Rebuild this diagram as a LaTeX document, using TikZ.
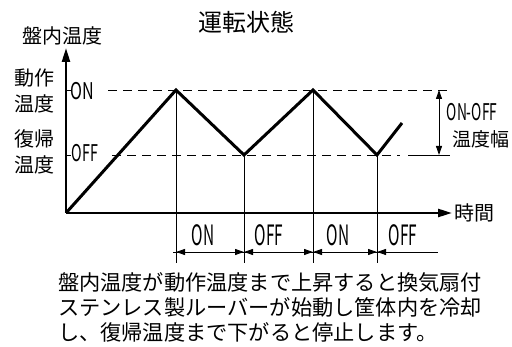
\documentclass[tikz,border=0pt]{standalone}
\usepackage{graphicx}
\usepackage{fontspec}
\setmainfont{Noto Sans CJK JP}
\usetikzlibrary{arrows.meta}
\newcommand\nrw[2]{\scalebox{#1}[1]{#2}}
\begin{document}
\begin{tikzpicture}[x=1pt,y=-1pt,
  axis/.style={line width=2.4pt,-{Triangle[length=14pt,width=8pt]}},
  curve/.style={line width=3pt,line join=miter},
  thinl/.style={line width=0.9pt},
  dsh/.style={line width=0.9pt,dash pattern=on 9pt off 6pt},
  tipd/.style={{Triangle[length=9pt,width=6pt]}-{Triangle[length=9pt,width=6pt]}},
  tipl/.style={{Triangle[length=9pt,width=6pt]}-},
  jp/.style={inner sep=0pt,font=\fontsize{#1}{#1}\selectfont}
]
\path[use as bounding box] (0,0) rectangle (512,347);
% coordinates
\coordinate (O) at (66,213);
\coordinate (ytop) at (66,48);
\coordinate (xend) at (452,213);
\coordinate (p1) at (176,90);
\coordinate (v1) at (244,155);
\coordinate (p2) at (313,90);
\coordinate (v2) at (377,155);
\coordinate (e) at (402,123);
\coordinate (b1) at (176,263);
\coordinate (b2) at (244,263);
\coordinate (b3) at (313,263);
\coordinate (b4) at (377,263);
\coordinate (d0) at (173,252);
\coordinate (d1) at (176,252);
\coordinate (d2) at (244,252);
\coordinate (d3) at (313,252);
\coordinate (d4) at (377,252);
\coordinate (d5) at (438,252);
\coordinate (t1a) at (66,90);
\coordinate (t1b) at (71,90);
\coordinate (t2a) at (66,155);
\coordinate (t2b) at (71,155);
\coordinate (on0) at (108,90);
\coordinate (on1) at (450,90);
\coordinate (of0) at (112,155);
\coordinate (of1) at (400,155);
\coordinate (of2) at (408,155);
\coordinate (of3) at (450,155);
\coordinate (r0) at (439,90);
\coordinate (r1) at (439,155);
% dashed levels
\draw[dsh] (on0) -- (on1);
\draw[dsh] (of0) -- (of1);
\draw[thinl] (of2) -- (of3);
% ticks
\draw[thinl] (t1a) -- (t1b);
\draw[thinl] (t2a) -- (t2b);
% verticals
\draw[thinl] (p1) -- (b1);
\draw[thinl] (v1) -- (b2);
\draw[thinl] (p2) -- (b3);
\draw[thinl] (v2) -- (b4);
% bottom dimension
\draw[thinl] (d0) -- (d5);
\draw[thinl,tipd] (d1) -- (d2);
\draw[thinl,tipd] (d2) -- (d3);
\draw[thinl,tipd] (d3) -- (d4);
\draw[thinl,tipl] (d4) -- (d5);
% right dimension
\draw[thinl,tipd] (r0) -- (r1);
% axes
\draw[axis] (O) -- (ytop);
\draw[axis] (O) -- (xend);
% curve
\draw[curve] (O) -- (p1) -- (v1) -- (p2) -- (v2) -- (e);
% labels
\node[jp=24] (title) at (246,22) {運転状態};
\node[jp=20] (ylab) at (63,36) {盤内温度};
\node[jp=20] (l1) at (34,78) {動作};
\node[jp=20] (l2) at (34,104) {温度};
\node[jp=20] (l3) at (34,139) {復帰};
\node[jp=20] (l4) at (34,165) {温度};
\node[jp=23] (yon) at (82,91) {\nrw{0.7}{ON}};
\node[jp=23] (yoff) at (85,153) {\nrw{0.62}{OFF}};
\node[jp=20] (xlab) at (474,213) {時間};
\node[jp=23] (onoff) at (472,112) {\nrw{0.6}{ON-OFF}};
\node[jp=19] (haba) at (481,139) {温度幅};
\node[jp=28] (s1) at (203,235) {\nrw{0.55}{ON}};
\node[jp=28] (s2) at (269,235) {\nrw{0.55}{OFF}};
\node[jp=28] (s3) at (338,235) {\nrw{0.55}{ON}};
\node[jp=28] (s4) at (403,235) {\nrw{0.55}{OFF}};
\node[jp=21.2,anchor=west] (t1) at (58,282) {盤内温度が動作温度まで上昇すると換気扇付};
\node[jp=21.2,anchor=west] (t2) at (58,307) {ステンレス製ルーバーが始動し筐体内を冷却};
\node[jp=21.2,anchor=west] (t3) at (58,332) {し、復帰温度まで下がると停止します。};
\end{tikzpicture}
\end{document}
